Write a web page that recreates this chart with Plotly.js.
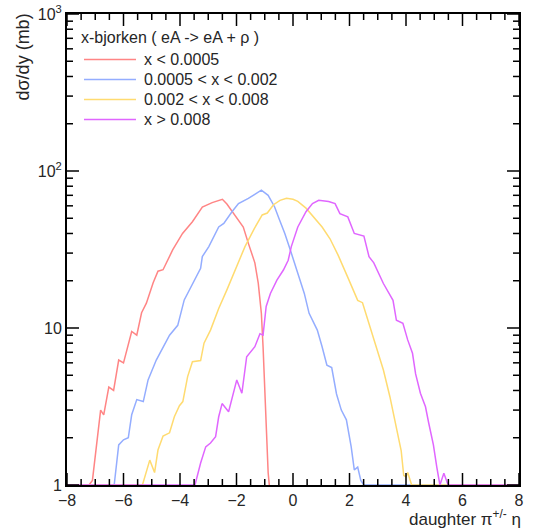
<!DOCTYPE html>
<html>
<head>
<meta charset="utf-8">
<script src="https://cdn.plot.ly/plotly-3.0.1.min.js"></script>
<style>html,body{margin:0;padding:0;background:#fff;}#chart{width:533px;height:529px;}</style>
</head>
<body>
<div id="chart"></div>
<script>
// Series names (legend)
const seriesNames = ["x &lt; 0.0005", "0.0005 &lt; x &lt; 0.002", "0.002 &lt; x &lt; 0.008", "x &gt; 0.008"];
const legendTitle = "x-bjorken ( eA -&gt; eA + ρ )";

// Red: x < 0.0005
const redX = [-8, -7.22, -7.1, -6.93, -6.81, -6.70, -6.52, -6.35, -6.17, -6.0, -5.71, -5.53, -5.36, -5.19, -4.95, -4.78, -4.6, -4.26, -3.91, -3.56, -3.21, -2.86, -2.63, -2.5, -2.34, -2.05, -1.76, -1.58, -1.35, -1.23, -1.12, -1.06, -1.0, -0.94, -0.88, -0.82];
const redY = [1, 1, 1.07, 1.94, 3.0, 2.8, 4.2, 4.0, 6.25, 6.0, 9.5, 9.0, 12.5, 14.4, 19.4, 23.0, 23.5, 31.4, 40, 47.5, 59, 62.9, 65.3, 66, 61.6, 52.5, 44, 34.6, 26, 19.3, 12.4, 7.6, 4.2, 2.6, 1.2, 0.92];

// Blue: 0.0005 < x < 0.002
const blueX = [-8, -6.33, -6.17, -6.0, -5.83, -5.71, -5.53, -5.30, -5.13, -4.84, -4.37, -4.08, -3.85, -3.56, -3.27, -3.21, -2.98, -2.63, -2.45, -2.16, -1.93, -1.58, -1.3, -1.12, -0.88, -0.65, -0.5, -0.29, -0.06, 0.17, 0.40, 0.57, 0.86, 1.03, 1.2, 1.37, 1.54, 1.71, 1.89, 2.06, 2.17, 2.29, 2.4, 2.51, 8];
const blueY = [1, 1, 1.8, 1.94, 2.0, 2.8, 3.5, 3.4, 4.67, 6.25, 9.0, 10.4, 15.1, 19.2, 24, 28.5, 33, 44, 46.4, 55, 62, 67, 72, 75.5, 70, 59, 50, 40, 30, 22.3, 16.6, 12.4, 9.7, 7.6, 5.8, 5.6, 3.8, 3.0, 2.6, 1.75, 1.25, 1.3, 1.07, 1, 1];

// Yellow: 0.002 < x < 0.008
const yellowX = [-8, -5.33, -5.07, -4.90, -4.78, -4.60, -4.37, -4.2, -4.02, -3.9, -3.73, -3.56, -3.27, -3.15, -2.92, -2.63, -2.34, -2.05, -1.70, -1.37, -1.09, -0.91, -0.69, -0.46, -0.23, 0, 0.17, 0.46, 0.74, 1.03, 1.31, 1.6, 1.94, 2.29, 2.46, 2.69, 2.97, 3.2, 3.43, 3.66, 3.83, 3.92, 4.0, 4.06, 4.2, 8];
const yellowY = [1, 1, 1.44, 1.2, 1.67, 2.05, 2.15, 2.72, 3.2, 3.4, 4.9, 6.1, 6.2, 8.0, 9.7, 13.3, 17.5, 23.4, 33, 43, 52.5, 54, 61, 65, 67, 66, 64, 58, 51, 44, 37, 29, 21, 15, 14.5, 10.7, 7.2, 5.4, 3.65, 2.35, 1.65, 1.15, 1.13, 1.2, 1, 1];

// Magenta: x > 0.008
const magentaX = [-8, -3.47, -3.27, -3.09, -2.92, -2.74, -2.63, -2.51, -2.28, -1.99, -1.81, -1.64, -1.35, -1.17, -1.06, -0.95, -0.8, -0.57, -0.34, -0.17, -0.06, 0.17, 0.46, 0.69, 0.91, 1.26, 1.49, 1.66, 1.94, 2.17, 2.51, 2.69, 2.86, 3.2, 3.54, 3.66, 3.89, 4.06, 4.23, 4.34, 4.51, 4.69, 4.8, 4.97, 5.09, 5.2, 5.34, 5.43, 5.49, 8];
const magentaY = [1, 1, 1.38, 1.75, 1.85, 2.03, 2.72, 3.3, 2.93, 4.67, 3.84, 6.56, 7.6, 9.2, 9.0, 13.7, 16.6, 20.2, 23.4, 27, 33, 44, 55, 62, 65, 64, 62, 53.5, 51, 40, 38.5, 28.5, 26, 19.2, 15, 11.2, 10.7, 8.4, 6.9, 5.1, 3.84, 3.15, 2.5, 1.8, 1.3, 1, 1.19, 1.05, 1, 1];

// Axis ticks
const yTickVals = [1, 10, 100, 1000];
const yTickText = ["1", "10", "10<sup>2</sup>", "10<sup>3</sup>"];
const xTickVals = [-8, -6, -4, -2, 0, 2, 4, 6, 8];

const colors = ["#ff8585", "#94adff", "#ffdb70", "#e066ff"];
const xs = [redX, blueX, yellowX, magentaX];
const ys = [redY, blueY, yellowY, magentaY];

const FONT = "Liberation Sans, Arial, Helvetica, sans-serif";
const TXT = "#262626";

// plot area in pixels (for placing decorations)
const L = 67, R = 14, T = 14, B = 44, W = 533, H = 529;
const pw = W - L - R, ph = H - T - B;
const px2x = p => (p - L) / pw;
const py2y = p => (H - B - p) / ph;

// minor tick positions (ROOT-style divisions)
const xMinor = [];
for (let v = -8; v <= 8; v += 0.5) if (xTickVals.indexOf(v) < 0) xMinor.push(v);
const yMinor = [];
for (const dec of [1, 10, 100]) for (let k = 2; k <= 9; k++) yMinor.push(k * dec);

const traces = xs.map((x, i) => ({
  type: "scatter", mode: "lines", x: x, y: ys[i], name: seriesNames[i],
  line: {color: colors[i], width: 1.5}, cliponaxis: false, hoverinfo: "skip", showlegend: false
}));

// Texts: axis titles + legend (ROOT-like TLegend)
const annotations = [
  {text: "dσ/dy (mb)", xref: "paper", yref: "paper", x: px2x(22), y: py2y(12),
   xanchor: "center", yanchor: "top", textangle: -90, showarrow: false,
   font: {family: FONT, size: 18, color: TXT}},
  {text: "daughter π<sup>+/-</sup> η", xref: "paper", yref: "paper", x: px2x(523), y: py2y(518),
   xanchor: "right", yanchor: "middle", showarrow: false,
   font: {family: FONT, size: 17, color: TXT}},
  {text: legendTitle, xref: "paper", yref: "paper", x: px2x(79), y: py2y(37),
   xanchor: "left", yanchor: "middle", showarrow: false,
   font: {family: FONT, size: 16, color: TXT}}
];
const shapes = [];
seriesNames.forEach((name, i) => {
  const rowY = 59.5 + 20 * i;
  annotations.push({text: name, xref: "paper", yref: "paper", x: px2x(142), y: py2y(rowY),
    xanchor: "left", yanchor: "middle", showarrow: false,
    font: {family: FONT, size: 16, color: TXT}});
  shapes.push({type: "line", xref: "paper", yref: "paper",
    x0: px2x(84), x1: px2x(136), y0: py2y(rowY), y1: py2y(rowY),
    line: {color: colors[i], width: 1.5}});
});

// Inside tick marks on all four sides of the frame (paper coordinates)
const tickLine = {color: "#000", width: 1.5};
const xRange = [-8, 8];
function xTick(v, len) {
  const fx = (v - xRange[0]) / (xRange[1] - xRange[0]);
  const f = len / ph;
  shapes.push({type: "line", xref: "paper", yref: "paper", x0: fx, x1: fx, y0: 0, y1: f, line: tickLine});
  shapes.push({type: "line", xref: "paper", yref: "paper", x0: fx, x1: fx, y0: 1, y1: 1 - f, line: tickLine});
}
function yTick(v, len) {
  const fy = Math.log10(v) / 3;
  const f = len / pw;
  shapes.push({type: "line", xref: "paper", yref: "paper", x0: 0, x1: f, y0: fy, y1: fy, line: tickLine});
  shapes.push({type: "line", xref: "paper", yref: "paper", x0: 1, x1: 1 - f, y0: fy, y1: fy, line: tickLine});
}
xTickVals.forEach(v => xTick(v, 12));
xMinor.forEach(v => xTick(v, 6));
yTickVals.forEach(v => yTick(v, 12));
yMinor.forEach(v => yTick(v, 6));

const layout = {
  width: W, height: H,
  margin: {l: L, r: R, t: T, b: B, pad: 0},
  paper_bgcolor: "#fff", plot_bgcolor: "#fff",
  font: {family: FONT, size: 16, color: TXT},
  showlegend: false,
  xaxis: {
    range: xRange, tickmode: "array", tickvals: xTickVals, ticks: "", ticklen: 0,
    showline: true, linewidth: 2, linecolor: "#000", mirror: true,
    showgrid: false, zeroline: false,
    tickfont: {family: FONT, size: 16, color: TXT}
  },
  yaxis: {
    type: "log", range: [0, 3], tickmode: "array", tickvals: yTickVals, ticktext: yTickText,
    ticks: "", ticklen: 0,
    showline: true, linewidth: 2, linecolor: "#000", mirror: true,
    showgrid: false, zeroline: false,
    tickfont: {family: FONT, size: 16, color: TXT}
  },
  annotations: annotations,
  shapes: shapes
};

Plotly.newPlot("chart", traces, layout, {displayModeBar: false, staticPlot: true});
</script>
</body>
</html>
